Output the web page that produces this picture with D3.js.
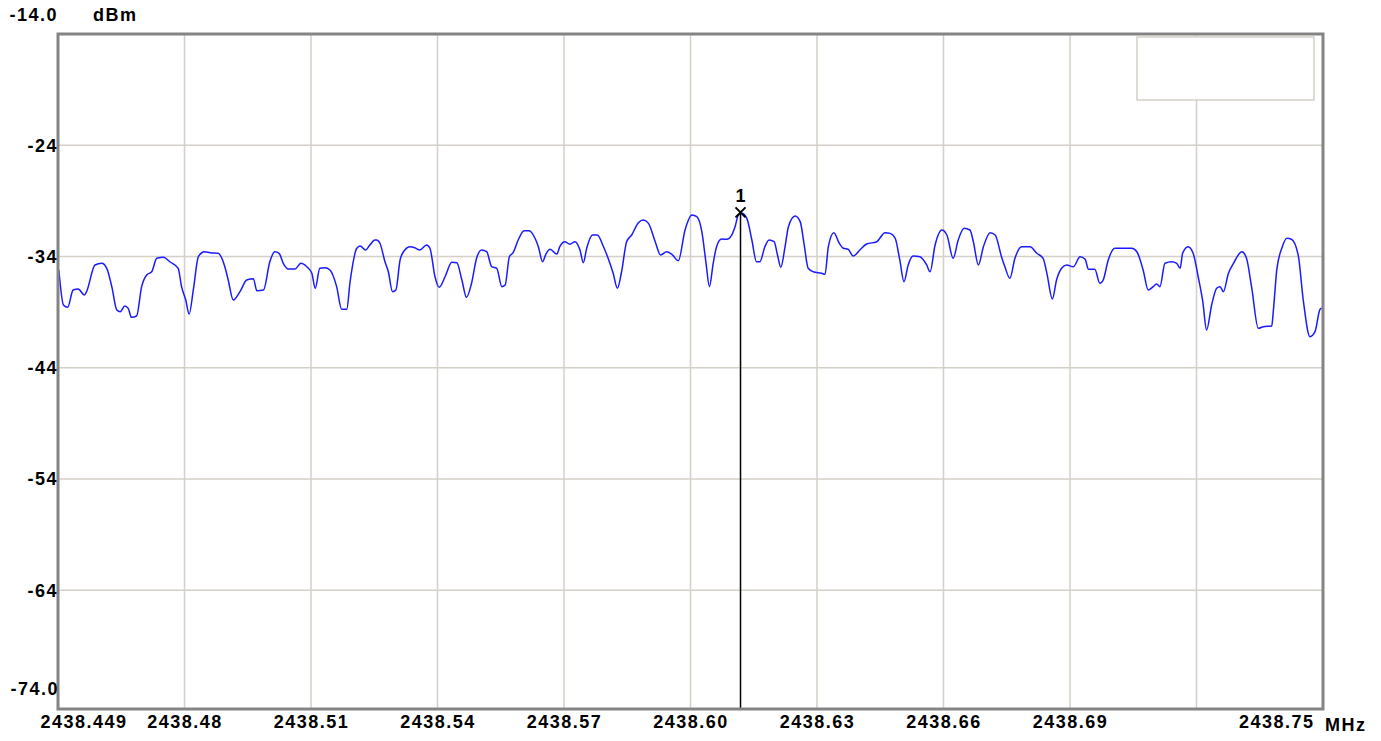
<!DOCTYPE html>
<html>
<head>
<meta charset="utf-8">
<script src="https://cdn.jsdelivr.net/npm/d3@7/dist/d3.min.js"></script>
<style>
  body { margin: 0; background: #fff; }
  text { font-family: "Liberation Sans", Arial, sans-serif; font-weight: bold; fill: #000; letter-spacing: 1.5px; }
</style>
</head>
<body>
<div id="chart"></div>
<script>
// Sweep settings
const startMHz = 2438.449;
const stopMHz = 2438.750;
const topLevel = -14;
const bottomLevel = -74;

// Axis labels (one per grid division, the 9th is blank on the display)
const xTickLabels = ["2438.449", "2438.48", "2438.51", "2438.54", "2438.57", "2438.60",
                     "2438.63", "2438.66", "2438.69", "", "2438.75"];
const yGridLevels = [-24, -34, -44, -54, -64];
const yEdgeLabels = ["-14.0", "-74.0"];

// Trace: [frequency MHz, level dBm]
const trace = [
  [2438.4492, -35.21], [2438.4503, -38.36], [2438.4513, -38.57], [2438.4526, -37.01],
  [2438.4538, -36.92], [2438.4553, -37.46], [2438.4558, -37.16], [2438.4578, -34.76],
  [2438.4594, -34.61], [2438.4606, -35.06], [2438.4618, -36.71], [2438.4630, -38.81],
  [2438.4638, -38.96], [2438.4649, -38.45], [2438.4657, -38.66], [2438.4665, -39.47],
  [2438.4677, -39.35], [2438.4689, -36.71], [2438.4701, -35.66], [2438.4713, -35.37],
  [2438.4725, -34.16], [2438.4741, -34.07], [2438.4756, -34.47], [2438.4776, -35.06],
  [2438.4784, -36.71], [2438.4794, -37.91], [2438.4802, -39.17], [2438.4812, -37.01],
  [2438.4824, -34.02], [2438.4838, -33.57], [2438.4852, -33.66], [2438.4871, -33.71],
  [2438.4887, -34.92], [2438.4895, -36.11], [2438.4907, -37.91], [2438.4923, -37.16],
  [2438.4939, -36.11], [2438.4955, -36.00], [2438.4963, -37.07], [2438.4979, -37.01],
  [2438.4994, -34.47], [2438.5006, -33.57], [2438.5016, -33.71], [2438.5026, -34.61],
  [2438.5038, -35.12], [2438.5054, -35.12], [2438.5068, -34.61], [2438.5082, -34.92],
  [2438.5094, -35.51], [2438.5102, -36.86], [2438.5113, -35.06], [2438.5125, -35.01],
  [2438.5137, -35.21], [2438.5153, -36.71], [2438.5165, -38.75], [2438.5177, -38.75],
  [2438.5185, -36.27], [2438.5201, -33.26], [2438.5209, -33.06], [2438.5222, -33.42],
  [2438.5232, -32.97], [2438.5244, -32.52], [2438.5248, -32.52], [2438.5256, -32.81],
  [2438.5268, -34.47], [2438.5276, -35.37], [2438.5286, -37.16], [2438.5294, -37.01],
  [2438.5304, -34.31], [2438.5312, -33.57], [2438.5328, -33.12], [2438.5339, -33.21],
  [2438.5351, -33.42], [2438.5367, -32.97], [2438.5375, -33.26], [2438.5387, -35.82],
  [2438.5397, -36.77], [2438.5411, -35.82], [2438.5427, -34.52], [2438.5439, -34.56],
  [2438.5451, -36.11], [2438.5462, -37.67], [2438.5474, -36.41], [2438.5486, -34.16],
  [2438.5498, -33.42], [2438.5510, -33.57], [2438.5522, -34.92], [2438.5534, -35.06],
  [2438.5546, -36.71], [2438.5554, -36.56], [2438.5564, -34.02], [2438.5573, -33.66],
  [2438.5585, -32.52], [2438.5599, -31.68], [2438.5611, -31.68], [2438.5625, -32.36],
  [2438.5633, -33.12], [2438.5643, -34.47], [2438.5651, -33.78], [2438.5661, -33.35],
  [2438.5677, -33.78], [2438.5684, -33.12], [2438.5696, -32.67], [2438.5708, -32.90],
  [2438.5720, -32.67], [2438.5732, -33.42], [2438.5740, -34.56], [2438.5748, -33.26],
  [2438.5762, -32.07], [2438.5773, -32.07], [2438.5788, -33.12], [2438.5799, -34.16],
  [2438.5811, -35.51], [2438.5821, -36.86], [2438.5831, -35.37], [2438.5843, -32.67],
  [2438.5855, -32.07], [2438.5871, -30.96], [2438.5883, -30.72], [2438.5895, -31.02],
  [2438.5911, -32.67], [2438.5924, -33.87], [2438.5938, -33.57], [2438.5950, -33.78],
  [2438.5966, -34.38], [2438.5982, -31.62], [2438.5998, -30.27], [2438.6010, -30.42],
  [2438.6022, -31.77], [2438.6032, -34.61], [2438.6040, -36.71], [2438.6049, -34.61],
  [2438.6057, -33.12], [2438.6069, -32.43], [2438.6081, -32.45], [2438.6093, -32.07],
  [2438.6101, -31.32], [2438.6109, -30.27], [2438.6117, -30.12], [2438.6129, -30.57],
  [2438.6141, -32.52], [2438.6152, -34.47], [2438.6160, -34.47], [2438.6172, -33.12],
  [2438.6182, -32.52], [2438.6194, -32.67], [2438.6202, -33.87], [2438.6210, -34.97],
  [2438.6220, -33.12], [2438.6228, -31.32], [2438.6244, -30.36], [2438.6256, -30.87],
  [2438.6265, -32.81], [2438.6275, -35.06], [2438.6287, -35.37], [2438.6307, -35.51],
  [2438.6315, -35.60], [2438.6323, -33.12], [2438.6336, -31.86], [2438.6349, -32.81],
  [2438.6359, -33.26], [2438.6370, -33.35], [2438.6382, -33.96], [2438.6398, -33.42],
  [2438.6414, -32.88], [2438.6438, -32.67], [2438.6458, -31.86], [2438.6470, -31.92],
  [2438.6482, -32.36], [2438.6493, -34.31], [2438.6503, -36.27], [2438.6513, -34.76],
  [2438.6525, -33.96], [2438.6541, -34.02], [2438.6557, -34.76], [2438.6565, -35.37],
  [2438.6577, -32.97], [2438.6593, -31.62], [2438.6605, -32.07], [2438.6620, -34.16],
  [2438.6632, -32.52], [2438.6646, -31.47], [2438.6660, -31.62], [2438.6668, -32.67],
  [2438.6680, -34.76], [2438.6692, -33.12], [2438.6708, -31.86], [2438.6720, -32.07],
  [2438.6735, -34.02], [2438.6743, -34.92], [2438.6755, -35.96], [2438.6767, -34.16],
  [2438.6783, -33.12], [2438.6803, -33.12], [2438.6819, -33.71], [2438.6834, -34.16],
  [2438.6843, -35.51], [2438.6856, -37.82], [2438.6866, -36.11], [2438.6878, -35.06],
  [2438.6890, -34.76], [2438.6906, -34.92], [2438.6922, -34.02], [2438.6934, -34.25],
  [2438.6942, -35.15], [2438.6957, -35.15], [2438.6969, -36.41], [2438.6977, -36.11],
  [2438.6989, -34.31], [2438.7005, -33.26], [2438.7045, -33.26], [2438.7057, -33.57],
  [2438.7072, -35.21], [2438.7084, -37.01], [2438.7096, -36.71], [2438.7104, -36.47],
  [2438.7112, -36.71], [2438.7124, -34.61], [2438.7140, -34.47], [2438.7152, -34.61],
  [2438.7160, -35.06], [2438.7166, -33.71], [2438.7179, -33.12], [2438.7191, -33.71],
  [2438.7203, -35.82], [2438.7214, -38.06], [2438.7223, -40.61], [2438.7235, -38.36],
  [2438.7247, -36.86], [2438.7255, -36.71], [2438.7263, -37.16], [2438.7275, -35.51],
  [2438.7287, -34.61], [2438.7307, -33.57], [2438.7318, -34.16], [2438.7330, -36.71],
  [2438.7346, -40.45], [2438.7358, -40.31], [2438.7378, -40.25], [2438.7382, -38.81],
  [2438.7390, -35.21], [2438.7402, -33.26], [2438.7414, -32.36], [2438.7425, -32.45],
  [2438.7441, -33.87], [2438.7453, -37.91], [2438.7469, -41.21], [2438.7481, -40.76],
  [2438.7493, -38.75], [2438.7497, -38.66]
];

const marker = { label: "1", freq: 2438.6114, level: -30.03 };

// Layout
const W = 1381, H = 741;
const plot = { left: 58, right: 1323, top: 34, bottom: 709 };
const fontSize = "18px";

const svg = d3.select("#chart").append("svg")
    .attr("width", W)
    .attr("height", H);

svg.append("rect").attr("width", W).attr("height", H).attr("fill", "#fff");

const x = d3.scaleLinear()
    .domain([startMHz, stopMHz])
    .range([plot.left, plot.right]);

const y = d3.scaleLinear()
    .domain([bottomLevel, topLevel])
    .range([701.5, plot.top]);

// vertical grid: 10 equal divisions across the span
const divisions = d3.range(0, 11).map(i => startMHz + i * (stopMHz - startMHz) / 10);

svg.append("g")
    .selectAll("line")
    .data(divisions.slice(1, 10))
    .join("line")
    .attr("x1", d => x(d)).attr("x2", d => x(d))
    .attr("y1", plot.top).attr("y2", plot.bottom)
    .attr("stroke", "#d4d0c8")
    .attr("stroke-width", 1.5);

svg.append("g")
    .selectAll("line")
    .data(yGridLevels)
    .join("line")
    .attr("x1", plot.left).attr("x2", plot.right)
    .attr("y1", d => y(d)).attr("y2", d => y(d))
    .attr("stroke", "#d4d0c8")
    .attr("stroke-width", 1.5);

// empty marker table box in the top right
svg.append("rect")
    .attr("x", 1137).attr("y", 37)
    .attr("width", 177).attr("height", 63)
    .attr("fill", "#fff")
    .attr("stroke", "#d4d0c8")
    .attr("stroke-width", 1.5);

// trace
svg.append("clipPath").attr("id", "clip")
  .append("rect")
    .attr("x", plot.left).attr("y", plot.top)
    .attr("width", plot.right - plot.left).attr("height", plot.bottom - plot.top);

const line = d3.line()
    .curve(d3.curveMonotoneX)
    .x(d => x(d[0]))
    .y(d => y(d[1]));

svg.append("path")
    .datum(trace)
    .attr("clip-path", "url(#clip)")
    .attr("fill", "none")
    .attr("stroke", "#1a1aff")
    .attr("stroke-width", 1.5)
    .attr("stroke-linejoin", "round")
    .attr("d", line);

// marker
const mx = x(marker.freq), my = y(marker.level);
svg.append("line")
    .attr("x1", mx).attr("x2", mx)
    .attr("y1", my).attr("y2", plot.bottom)
    .attr("stroke", "#000")
    .attr("stroke-width", 1.5);

svg.append("path")
    .attr("d", `M${mx - 5},${my - 5}L${mx + 5},${my + 5}M${mx - 5},${my + 5}L${mx + 5},${my - 5}`)
    .attr("stroke", "#000")
    .attr("stroke-width", 2);

svg.append("text")
    .attr("x", mx).attr("y", my - 10)
    .attr("text-anchor", "middle")
    .style("font-size", fontSize)
    .style("letter-spacing", "0px")
    .text(marker.label);

// frame
svg.append("rect")
    .attr("x", plot.left).attr("y", plot.top)
    .attr("width", plot.right - plot.left).attr("height", plot.bottom - plot.top)
    .attr("fill", "none")
    .attr("stroke", "#848484")
    .attr("stroke-width", 3);

// y labels
const yAxis = d3.axisLeft(y)
    .tickValues(yGridLevels)
    .tickSize(0)
    .tickPadding(0)
    .tickFormat(d => String(d));

svg.append("g")
    .attr("transform", `translate(${plot.left},0)`)
    .call(yAxis)
    .call(g => g.select(".domain").remove())
    .selectAll("text")
    .attr("font-family", null)
    .style("font-size", fontSize);

svg.append("text")
    .attr("x", plot.left).attr("y", 21)
    .attr("text-anchor", "end")
    .style("font-size", fontSize)
    .text(yEdgeLabels[0]);

svg.append("text")
    .attr("x", plot.left + 1).attr("y", 695)
    .attr("text-anchor", "end")
    .style("font-size", fontSize)
    .text(yEdgeLabels[1]);

svg.append("text")
    .attr("x", 93).attr("y", 21)
    .style("font-size", fontSize)
    .text("dBm");

// x labels
const xAxis = d3.axisBottom(x)
    .tickValues(divisions)
    .tickSize(0)
    .tickPadding(6)
    .tickFormat((d, i) => xTickLabels[i]);

const xg = svg.append("g")
    .attr("transform", `translate(0,${plot.bottom})`)
    .call(xAxis)
    .call(g => g.select(".domain").remove());

xg.selectAll("text")
    .attr("font-family", null)
    .style("font-size", fontSize);

xg.selectAll(".tick").filter((d, i) => i === 0).select("text")
    .attr("text-anchor", "start").attr("dx", -18);
xg.selectAll(".tick").filter((d, i) => i === 10).select("text")
    .attr("text-anchor", "end").attr("dx", -9);

svg.append("text")
    .attr("x", 1325).attr("y", 731)
    .style("font-size", fontSize)
    .text("MHz");
</script>
</body>
</html>
